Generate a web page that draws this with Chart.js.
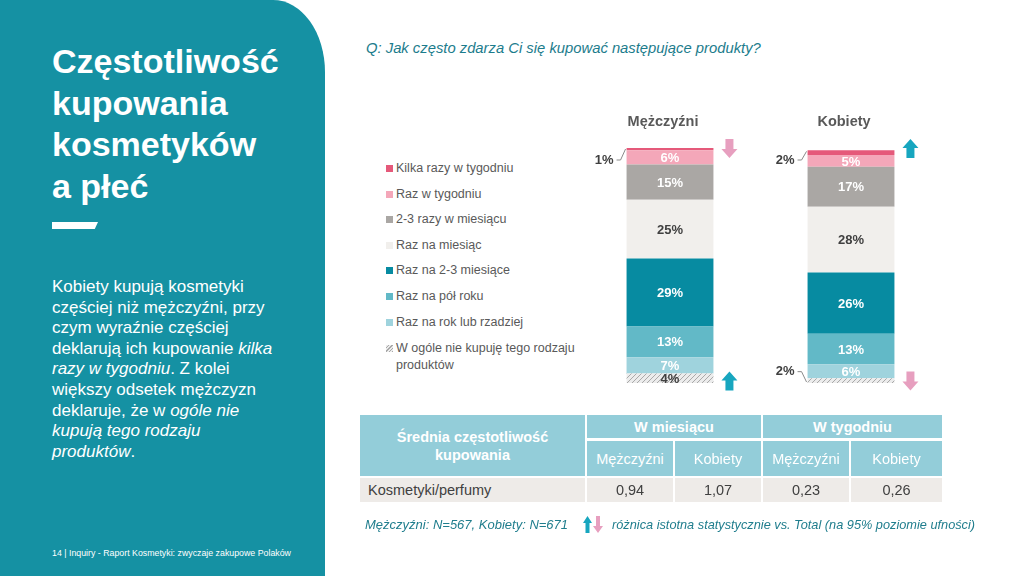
<!DOCTYPE html>
<html><head><meta charset="utf-8">
<script src="https://cdn.jsdelivr.net/npm/chart.js@4"></script>
<style>
html,body{margin:0;padding:0;width:1024px;height:576px;overflow:hidden;background:#fff;font-family:"Liberation Sans",Arial,sans-serif;}
#panel{position:absolute;left:0;top:0;width:325px;height:576px;background:#1591a3;border-top-right-radius:52px 72px;}
#title{position:absolute;left:52px;top:41px;color:#fff;font-weight:bold;font-size:34px;line-height:41.5px;white-space:nowrap;}
#dash{position:absolute;left:52px;top:222px;width:46px;height:7px;background:#fff;clip-path:polygon(0 0,100% 0,93% 100%,0 100%);}
#para{position:absolute;left:52px;top:277px;color:#fff;font-size:17px;line-height:20.6px;white-space:nowrap;}
#foot{position:absolute;left:52px;top:548px;color:#fff;font-size:8.8px;white-space:nowrap;}
#question{position:absolute;left:366px;top:40px;color:#1c7c8c;font-style:italic;font-size:14.8px;white-space:nowrap;}
#chartbox{position:absolute;left:330px;top:0;width:694px;height:576px;}
.leg{position:absolute;left:386px;font-size:12.5px;line-height:17px;color:#595959;white-space:nowrap;}
.leg .sq{position:absolute;left:0;top:5px;width:7px;height:7px;}
.leg .tx{position:absolute;left:10px;top:0;}
.cell{position:absolute;display:flex;align-items:center;justify-content:center;font-size:14.5px;box-sizing:border-box;text-align:center;}
.hd{background:#93cdd9;color:#fff;}
.bd{background:#eeebe8;color:#404040;}
#note{position:absolute;left:365px;top:517px;color:#1f7d8d;font-style:italic;font-size:13px;white-space:nowrap;}
#note2{position:absolute;left:612px;top:517px;color:#1f7d8d;font-style:italic;font-size:12.75px;white-space:nowrap;}
#noteArrows{position:absolute;left:583px;top:516px;}
</style>
</head><body>
<div id="panel"></div>
<div id="title">Częstotliwość<br>kupowania<br>kosmetyków<br>a płeć</div>
<div id="dash"></div>
<div id="para">Kobiety kupują kosmetyki<br>częściej niż mężczyźni, przy<br>czym wyraźnie częściej<br>deklarują ich kupowanie <i>kilka</i><br><i>razy w tygodniu</i>. Z kolei<br>większy odsetek mężczyzn<br>deklaruje, że w <i>ogóle nie</i><br><i>kupują tego rodzaju</i><br><i>produktów</i>.</div>
<div id="foot">14 | Inquiry - Raport Kosmetyki: zwyczaje zakupowe Polaków</div>
<div id="question">Q: Jak często zdarza Ci się kupować następujące produkty?</div>
<div id="legend"></div>
<div id="chartbox"><canvas id="c"></canvas></div>
<div id="table"></div>
<div id="note">Mężczyźni: N=567, Kobiety: N=671</div>
<svg id="noteArrows" width="22" height="18" viewBox="0 0 22 18">
  <polygon points="4.5,0 9,7 6.5,7 6.5,17 2.5,17 2.5,7 0,7" fill="#17a6bf"/>
  <polygon points="13,0 17,0 17,10 20,10 15,17 10,10 13,10" fill="#e79fbf"/>
</svg>
<div id="note2">różnica istotna statystycznie vs. Total (na 95% poziomie ufności)</div>
<script>
// ---- data ----
const categories = ['Mężczyźni', 'Kobiety'];
const seriesNames = ['W ogóle nie kupuję tego rodzaju produktów', 'Raz na rok lub rzadziej', 'Raz na pół roku', 'Raz na 2-3 miesiące', 'Raz na miesiąc', '2-3 razy w miesiącu', 'Raz w tygodniu', 'Kilka razy w tygodniu'];
const valNieKupuje = [4, 2];
const valRokLubRzadziej = [7, 6];
const valPolRoku = [13, 13];
const valDwaTrzyMiesiace = [29, 26];
const valMiesiac = [25, 28];
const valDwaTrzyRazyMiesiac = [15, 17];
const valRazTydzien = [6, 5];
const valKilkaTydzien = [1, 2];
const sigTop = ['down', 'up'];
const sigBottom = ['up', 'down'];
const tableHeader = 'Średnia częstotliwość kupowania';
const tableGroups = ['W miesiącu', 'W tygodniu'];
const tableSub = ['Mężczyźni', 'Kobiety', 'Mężczyźni', 'Kobiety'];
const tableRowLabel = 'Kosmetyki/perfumy';
const tableValues = ['0,94', '1,07', '0,23', '0,26'];

// ---- styles ----
const seriesValues = [valNieKupuje, valRokLubRzadziej, valPolRoku, valDwaTrzyMiesiace, valMiesiac, valDwaTrzyRazyMiesiac, valRazTydzien, valKilkaTydzien];
const seriesColors = [null, '#9fd3dd', '#62b9c7', '#078ba1', '#f1efec', '#aaa7a4', '#f4a7b9', '#e5597a'];
const labelColors = ['#404040', '#fff', '#fff', '#fff', '#404040', '#fff', '#fff', '#fff'];
const FONT = '"Liberation Sans", Arial, sans-serif';

function hatch() {
  const p = document.createElement('canvas');
  p.width = 5; p.height = 5;
  const g = p.getContext('2d');
  g.fillStyle = '#ececec'; g.fillRect(0, 0, 5, 5);
  g.strokeStyle = '#a9a9a9'; g.lineWidth = 1;
  g.beginPath(); g.moveTo(0, 5); g.lineTo(5, 0); g.moveTo(-1, 1); g.lineTo(1, -1); g.moveTo(4, 6); g.lineTo(6, 4); g.stroke();
  return g.createPattern(p, 'repeat');
}
seriesColors[0] = hatch();

// legend (top item = top of stack)
const legend = document.getElementById('legend');
const legendTops = [160, 186, 211, 237, 262, 288, 314, 340];
for (let k = 0; k < seriesNames.length; k++) {
  const idx = seriesNames.length - 1 - k;
  const d = document.createElement('div');
  d.className = 'leg';
  d.style.top = legendTops[k] + 'px';
  const sq = document.createElement('div');
  sq.className = 'sq';
  sq.style.background = idx === 0 ? 'repeating-linear-gradient(135deg,#ececec 0 1.5px,#a9a9a9 1.5px 2.5px)' : seriesColors[idx];
  const tx = document.createElement('div');
  tx.className = 'tx';
  tx.innerHTML = idx === 0 ? 'W ogóle nie kupuję tego rodzaju<br>produktów' : seriesNames[idx];
  d.appendChild(sq); d.appendChild(tx);
  legend.appendChild(d);
}

// table
const table = document.getElementById('table');
function cell(x, y, w, h, cls, html, extra) {
  const d = document.createElement('div');
  d.className = 'cell ' + cls;
  d.style.left = x + 'px'; d.style.top = y + 'px'; d.style.width = w + 'px'; d.style.height = h + 'px';
  if (extra) Object.assign(d.style, extra);
  d.innerHTML = html;
  table.appendChild(d);
}
const colX = [587, 675, 763, 851];
const colW = [86, 86, 86, 91];
cell(360, 415, 225, 61, 'hd', tableHeader.replace(' kupowania', '<br>kupowania'), {fontWeight: 'bold', lineHeight: '18px'});
cell(587, 415, 174, 23, 'hd', tableGroups[0], {fontWeight: 'bold'});
cell(763, 415, 179, 23, 'hd', tableGroups[1], {fontWeight: 'bold'});
tableSub.forEach((s, i) => cell(colX[i], 441, colW[i], 35, 'hd', s));
cell(360, 478, 225, 24, 'bd', tableRowLabel, {justifyContent: 'flex-start', paddingLeft: '8px'});
tableValues.forEach((v, i) => cell(colX[i], 478, colW[i], 24, 'bd', v));

// arrows
function arrow(ctx, cx, cy, dir, color) {
  const w = 16, h = 19, sw = 8, hh = 9;
  ctx.fillStyle = color;
  ctx.beginPath();
  if (dir === 'up') {
    const t = cy - h / 2;
    ctx.moveTo(cx, t); ctx.lineTo(cx + w / 2, t + hh); ctx.lineTo(cx + sw / 2, t + hh); ctx.lineTo(cx + sw / 2, t + h);
    ctx.lineTo(cx - sw / 2, t + h); ctx.lineTo(cx - sw / 2, t + hh); ctx.lineTo(cx - w / 2, t + hh);
  } else {
    const b = cy + h / 2;
    ctx.moveTo(cx, b); ctx.lineTo(cx + w / 2, b - hh); ctx.lineTo(cx + sw / 2, b - hh); ctx.lineTo(cx + sw / 2, b - h);
    ctx.lineTo(cx - sw / 2, b - h); ctx.lineTo(cx - sw / 2, b - hh); ctx.lineTo(cx - w / 2, b - hh);
  }
  ctx.closePath(); ctx.fill();
}
const ARROW = {up: '#17a6bf', down: '#e79fbf'};

const labelPlugin = {
  id: 'labels',
  afterDatasetsDraw(chart) {
    const ctx = chart.ctx, xs = chart.scales.x, area = chart.chartArea;
    const n = chart.data.datasets.length;
    ctx.save();
    ctx.textBaseline = 'middle';
    ctx.font = 'bold 14.5px ' + FONT;
    ctx.fillStyle = '#595959'; ctx.textAlign = 'center';
    categories.forEach((c, i) => ctx.fillText(c, xs.getPixelForValue(i) - 7, area.top - 26));
    ctx.font = 'bold 13px ' + FONT;
    chart.data.datasets.forEach((ds, di) => {
      const meta = chart.getDatasetMeta(di);
      meta.data.forEach((el, i) => {
        const v = ds.data[i];
        const p = el.getProps(['x', 'y', 'base', 'width'], true);
        const cy = (p.y + p.base) / 2;
        const left = p.x - p.width / 2;
        if (v <= 2) {
          const isTop = di === n - 1;
          const ly = isTop ? area.top + 12 : cy - 9;
          ctx.fillStyle = '#404040'; ctx.textAlign = 'right';
          ctx.fillText(v + '%', left - 13, ly);
          ctx.strokeStyle = '#8a8a8a'; ctx.lineWidth = 1;
          ctx.beginPath();
          ctx.moveTo(left - 10, ly); ctx.lineTo(left - 6, ly);
          ctx.lineTo(left - 1, isTop ? p.y + 1 : p.base - 1);
          ctx.stroke();
        } else {
          ctx.fillStyle = labelColors[di]; ctx.textAlign = 'center';
          ctx.fillText(v + '%', p.x, di === 0 ? cy + 1.5 : cy + 1);
        }
      });
    });
    // significance arrows
    const topMeta = chart.getDatasetMeta(n - 1);
    categories.forEach((c, i) => {
      const p = topMeta.data[i].getProps(['x', 'width'], true);
      const ax = p.x + p.width / 2 + 16;
      arrow(ctx, ax, area.top + 0.5, sigTop[i], ARROW[sigTop[i]]);
      arrow(ctx, ax, area.bottom - 2, sigBottom[i], ARROW[sigBottom[i]]);
    });
    ctx.restore();
  }
};

new Chart(document.getElementById('c'), {
  type: 'bar',
  data: {
    labels: categories,
    datasets: seriesNames.map((name, i) => ({
      label: name,
      data: seriesValues[i],
      backgroundColor: seriesColors[i],
      borderWidth: 0,
      categoryPercentage: 1,
      barPercentage: 0.48
    }))
  },
  options: {
    responsive: true,
    maintainAspectRatio: false,
    animation: false,
    layout: {padding: {left: 249.5, right: 82.5, top: 148, bottom: 193}},
    plugins: {legend: {display: false}, tooltip: {enabled: false}},
    scales: {
      x: {stacked: true, display: false},
      y: {stacked: true, display: false, min: 0, max: 100}
    }
  },
  plugins: [labelPlugin]
});
</script>
</body></html>
